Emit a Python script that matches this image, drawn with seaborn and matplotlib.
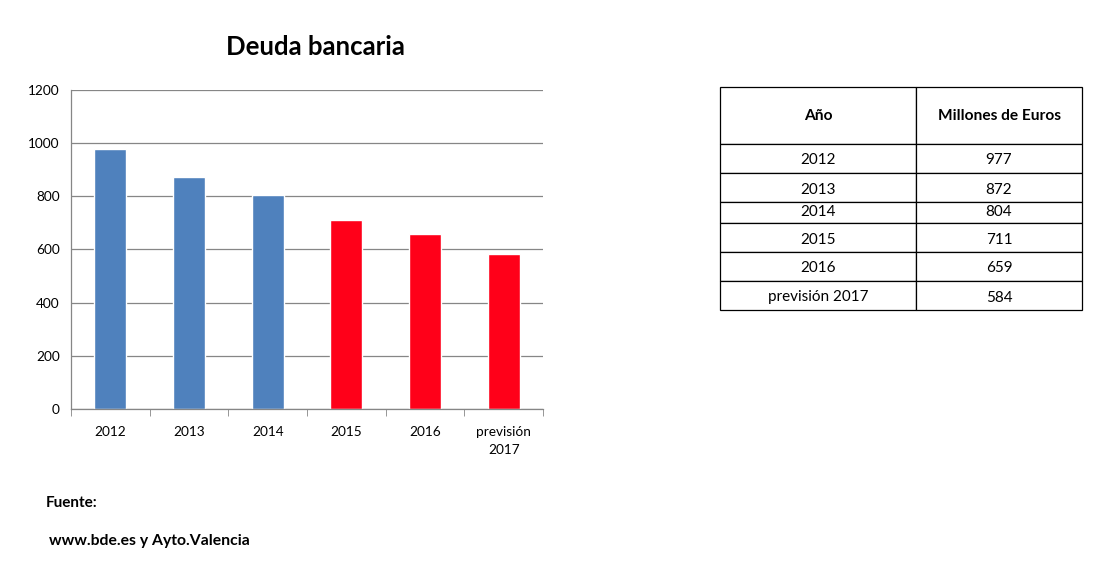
import pandas as pd
import numpy as np
import matplotlib.pyplot as plt
import matplotlib.transforms as mtransforms
import seaborn as sns

years = ["2012", "2013", "2014", "2015", "2016", "previsión 2017"]
tick_labels = ["2012", "2013", "2014", "2015", "2016", "previsión\n2017"]
debt = [977, 872, 804, 711, 659, 584]
bar_colors = ["#4F81BD", "#4F81BD", "#4F81BD", "#FF0019", "#FF0019", "#FF0019"]
table_header = ["Año", "Millones de Euros"]

sns.set_style("white")
plt.rcParams["font.family"] = ["Lato", "DejaVu Sans"]
plt.rcParams["text.color"] = "black"
plt.rcParams["xtick.labelcolor"] = "black"
plt.rcParams["ytick.labelcolor"] = "black"

df = pd.DataFrame({"year": years, "debt": debt})

fig = plt.figure(figsize=(11.07, 5.79), dpi=100)
ax = fig.add_axes([71 / 1107, 1 - 409 / 579, 472 / 1107, 319 / 579])

sns.barplot(data=df, x="year", y="debt", hue="year", palette=bar_colors,
            width=0.41, saturation=1, legend=False, ax=ax)

ax.set_ylim(0, 1200)
ax.set_xlim(-0.5, len(years) - 0.5)
ax.set_yticks(np.arange(0, 1201, 200))
ax.yaxis.grid(True, color="#868686", linewidth=0.9)
ax.set_axisbelow(True)
ax.set_xticks(range(len(years)))
ax.set_xticklabels(tick_labels, fontsize=9.8, linespacing=1.6)
ax.set_xticks(np.arange(-0.5, len(years)), minor=True)
ax.tick_params(axis="x", which="major", length=0, pad=12)
ax.tick_params(axis="x", which="minor", length=5, color="#868686", direction="out")
ax.tick_params(axis="y", length=5, color="#868686", direction="out", labelsize=9.8, pad=3)
ax.xaxis.set_tick_params(bottom=True, which="minor")
ax.set_xlabel("")
ax.set_ylabel("")
for s in ["top", "right"]:
    ax.spines[s].set_visible(False)
for s in ["left", "bottom"]:
    ax.spines[s].set_color("#868686")
    ax.spines[s].set_linewidth(0.9)

fig.text(315 / 1107, 1 - 47 / 579, "Deuda bancaria", ha="center", va="center",
         fontsize=18.5, fontweight="bold")

fig.text(46 / 1107, 1 - 503 / 579, "Fuente:", ha="left", va="center",
         fontsize=11, fontweight="bold")
fig.text(49 / 1107, 1 - 541 / 579, "www.bde.es y Ayto.Valencia", ha="left", va="center",
         fontsize=11.3, fontweight="bold")

# table on the right
tax = fig.add_axes([720 / 1107, 1 - 310 / 579, 362 / 1107, 223 / 579])
tax.axis("off")
cell_text = [[y, str(v)] for y, v in zip(years, debt)]
tbl = tax.table(cellText=cell_text, colLabels=table_header, cellLoc="center",
                colWidths=[196, 166], bbox=[0, 0, 1, 1])
tbl.auto_set_font_size(False)
row_heights = [57, 29, 29, 21, 29, 29, 29]
shift = mtransforms.ScaledTranslation(0, -2 / 100, fig.dpi_scale_trans)
for (r, c), cell in tbl.get_celld().items():
    cell.set_height(row_heights[r])
    cell.set_linewidth(0.9)
    cell.set_edgecolor("black")
    txt = cell.get_text()
    txt.set_fontsize(11)
    txt.set_color("black")
    if r == 0:
        txt.set_fontweight("bold")
        txt.set_fontsize(11.2)
    elif r != 3:
        txt.set_transform(txt.get_transform() + shift)

fig.savefig("out.png", dpi=100)
